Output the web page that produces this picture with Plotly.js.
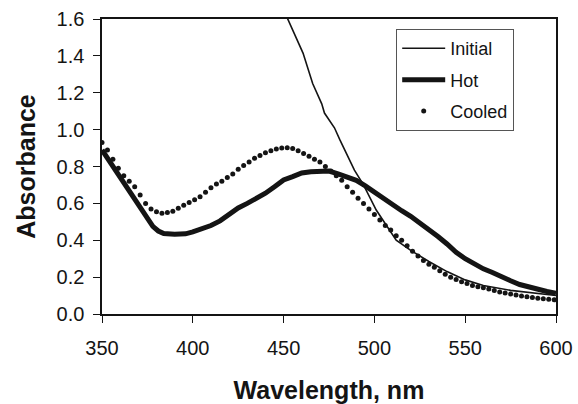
<!DOCTYPE html>
<html>
<head>
<meta charset="utf-8">
<script src="https://cdn.plot.ly/plotly-3.0.1.min.js"></script>
<style>html,body{margin:0;padding:0;background:#fff;}</style>
</head>
<body>
<div id="chart" style="width:578px;height:404px;"></div>
<script>
// Initial (thin line)
const initialNm  = [445, 452.4, 460.7, 466, 471, 472.5, 478, 481, 489, 494, 501, 512, 520, 530, 540, 550, 560, 575, 590, 600];
const initialAbs = [1.76, 1.60, 1.415, 1.25, 1.14, 1.09, 1.01, 0.944, 0.78, 0.70, 0.564, 0.40, 0.345, 0.285, 0.23, 0.185, 0.155, 0.128, 0.112, 0.10];

// Hot (thick line)
const hotNm  = [350, 355, 360, 365, 370, 375, 378, 381, 384, 390, 396, 400, 405, 410, 415, 420, 425, 430, 435, 440, 445, 450, 455, 460, 465, 470, 475, 480, 485, 490, 495, 500, 505, 510, 515, 520, 525, 530, 535, 540, 545, 550, 555, 560, 565, 570, 575, 580, 585, 590, 595, 600];
const hotAbs = [0.89, 0.815, 0.74, 0.665, 0.585, 0.51, 0.475, 0.45, 0.436, 0.433, 0.435, 0.445, 0.462, 0.48, 0.505, 0.54, 0.575, 0.60, 0.625, 0.655, 0.69, 0.727, 0.745, 0.765, 0.772, 0.775, 0.775, 0.76, 0.745, 0.725, 0.695, 0.66, 0.625, 0.59, 0.56, 0.53, 0.495, 0.46, 0.42, 0.38, 0.335, 0.30, 0.27, 0.245, 0.225, 0.20, 0.18, 0.16, 0.145, 0.132, 0.122, 0.112];

// Cooled (dots)
const cooledNm  = [350, 353, 356, 359, 362, 365, 368, 371, 374, 377, 380, 383, 386, 389, 392, 395, 398, 401, 404, 407, 410, 413, 416, 419, 422, 425, 428, 431, 434, 437, 440, 443, 446, 449, 452, 455, 458, 461, 464, 467, 470, 473, 476, 479, 482, 485, 488, 491, 494, 497, 500, 503, 506, 509, 512, 515, 518, 521, 524, 527, 530, 533, 536, 539, 542, 545, 548, 551, 554, 557, 560, 563, 566, 569, 572, 575, 578, 581, 584, 587, 590, 593, 596, 599];
const cooledAbs = [0.93, 0.89, 0.84, 0.79, 0.75, 0.72, 0.69, 0.645, 0.60, 0.57, 0.555, 0.546, 0.550, 0.557, 0.573, 0.59, 0.605, 0.62, 0.636, 0.66, 0.685, 0.705, 0.72, 0.74, 0.76, 0.785, 0.805, 0.825, 0.845, 0.86, 0.875, 0.885, 0.895, 0.900, 0.902, 0.898, 0.885, 0.87, 0.855, 0.84, 0.825, 0.80, 0.775, 0.75, 0.725, 0.69, 0.66, 0.628, 0.60, 0.57, 0.54, 0.51, 0.48, 0.455, 0.425, 0.40, 0.37, 0.34, 0.315, 0.29, 0.27, 0.253, 0.235, 0.215, 0.20, 0.187, 0.175, 0.165, 0.155, 0.148, 0.142, 0.135, 0.128, 0.12, 0.114, 0.108, 0.103, 0.098, 0.094, 0.090, 0.086, 0.083, 0.080, 0.077];

const xTicks = [350, 400, 450, 500, 550, 600];
const yTicks = [0.0, 0.2, 0.4, 0.6, 0.8, 1.0, 1.2, 1.4, 1.6];
const seriesNames = ['Initial', 'Hot', 'Cooled'];

const ink = '#141414';

const traces = [
  {x: initialNm, y: initialAbs, name: seriesNames[0], type: 'scatter', mode: 'lines',
   line: {color: ink, width: 1.6}, legendgroup: 'a'},
  {x: hotNm, y: hotAbs, name: seriesNames[1], type: 'scatter', mode: 'lines',
   line: {color: ink, width: 5}, legendgroup: 'b'},
  {x: cooledNm, y: cooledAbs, name: seriesNames[2], type: 'scatter', mode: 'markers',
   marker: {color: ink, size: 5, symbol: 'circle'}, legendgroup: 'c'}
];

const layout = {
  width: 578, height: 404,
  margin: {l: 102, r: 22, t: 19, b: 90},
  paper_bgcolor: '#fff', plot_bgcolor: '#fff',
  font: {family: '"Liberation Sans", Arial, sans-serif', color: ink},
  showlegend: true,
  legend: {
    x: 0.648, y: 0.966, xanchor: 'left', yanchor: 'top',
    bgcolor: '#fff', bordercolor: '#555', borderwidth: 1,
    font: {size: 18, color: ink}, itemwidth: 43,
    tracegroupgap: 5, traceorder: 'grouped'
  },
  xaxis: {
    range: [350, 600], tickvals: xTicks, ticks: 'outside', ticklen: 7, tickwidth: 1, tickcolor: ink,
    showline: true, linecolor: ink, linewidth: 1.6, mirror: true,
    showgrid: false, zeroline: false, tickfont: {size: 20, color: ink}, ticklabelstandoff: 8,
    title: {text: 'Wavelength, nm', font: {size: 25, weight: 'bold', color: ink}, standoff: 27}
  },
  yaxis: {
    range: [0, 1.6], tickvals: yTicks, tickformat: '.1f', ticks: 'outside', ticklen: 7, tickwidth: 1, tickcolor: ink,
    showline: true, linecolor: ink, linewidth: 1.6, mirror: true,
    showgrid: false, zeroline: false, tickfont: {size: 20, color: ink}, ticklabelstandoff: 5,
    title: {text: 'Absorbance', font: {size: 25, weight: 'bold', color: ink}, standoff: 14}
  }
};

Plotly.newPlot('chart', traces, layout, {displayModeBar: false, staticPlot: true});
</script>
</body>
</html>
